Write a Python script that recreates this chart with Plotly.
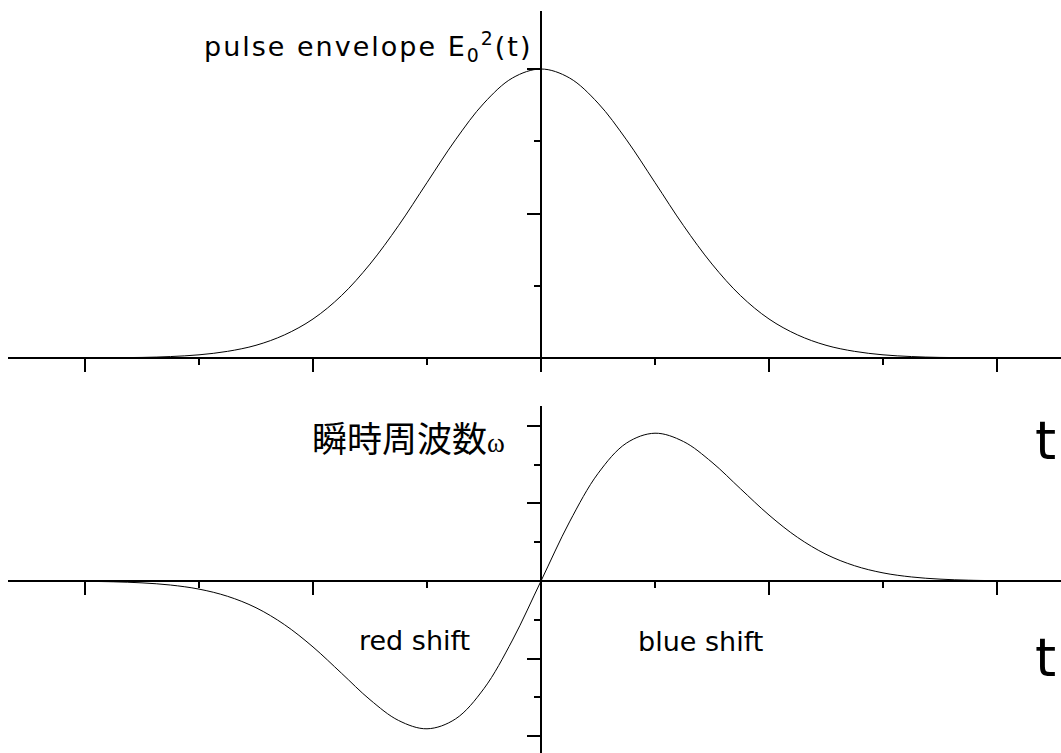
import plotly.graph_objects as go

# time axis, in units of the pulse width (one minor tick = 1)
t = [-4.0, -3.75, -3.5, -3.25, -3.0, -2.75, -2.5, -2.25, -2.0, -1.75, -1.5, -1.25, -1.0,
     -0.75, -0.5, -0.25, 0.0, 0.25, 0.5, 0.75, 1.0, 1.25, 1.5, 1.75, 2.0, 2.25, 2.5,
     2.75, 3.0, 3.25, 3.5, 3.75, 4.0]

# pulse envelope E0^2(t), normalised to 1 at the peak
envelope = [0.000, 0.001, 0.002, 0.005, 0.011, 0.023, 0.044, 0.080, 0.135, 0.216, 0.325,
            0.458, 0.607, 0.755, 0.882, 0.969, 1.000, 0.969, 0.882, 0.755, 0.607, 0.458,
            0.325, 0.216, 0.135, 0.080, 0.044, 0.023, 0.011, 0.005, 0.002, 0.001, 0.000]

# instantaneous frequency shift (one y tick = 1)
omega = [-0.008, -0.021, -0.048, -0.104, -0.209, -0.394, -0.689, -1.125, -1.700, -2.377,
         -3.059, -3.594, -3.809, -3.555, -2.771, -1.522, 0.000, 1.522, 2.771, 3.555, 3.809,
         3.594, 3.059, 2.377, 1.700, 1.125, 0.689, 0.394, 0.209, 0.104, 0.048, 0.021, 0.008]

W, H = 1061, 753
X_LEFT = 8          # left end of the time axes
X_ZERO = 541        # t = 0
PX_PER_T = 114
TOP_BASE, TOP_TOP = 358, 11
BOT_ZERO, BOT_TOP, BOT_BOTTOM = 581, 406, 753
PX_PER_W = 38.8

t_range = [-(X_ZERO - X_LEFT) / PX_PER_T, (W - X_ZERO) / PX_PER_T]
top_range = [0, (TOP_BASE - TOP_TOP) / (TOP_BASE - 69)]
bot_range = [-(BOT_BOTTOM - BOT_ZERO) / PX_PER_W, (BOT_ZERO - BOT_TOP) / PX_PER_W]

def py(px):
    return 1 - px / H

fig = go.Figure()
fig.add_trace(go.Scatter(x=t, y=envelope, mode="lines", line=dict(color="black", width=1, shape="spline"),
                         xaxis="x", yaxis="y", hoverinfo="skip"))
fig.add_trace(go.Scatter(x=t, y=omega, mode="lines", line=dict(color="black", width=1, shape="spline"),
                         xaxis="x2", yaxis="y2", hoverinfo="skip"))

xcommon = dict(range=t_range, domain=[X_LEFT / W, 1], showgrid=False, zeroline=False,
               showline=True, linecolor="black", linewidth=2, ticks="outside", tickcolor="black",
               tickwidth=2, ticklen=13, tick0=0, dtick=2, showticklabels=False, fixedrange=True,
               minor=dict(dtick=1, tick0=0, ticks="outside", ticklen=6, tickwidth=2, tickcolor="black"))
ycommon = dict(showgrid=False, zeroline=False, showline=True, linecolor="black", linewidth=2,
               ticks="outside", tickcolor="black", tickwidth=2, ticklen=13, showticklabels=False,
               anchor="free", position=X_ZERO / W, fixedrange=True)

fig.update_layout(
    width=W, height=H, margin=dict(l=0, r=0, t=0, b=0),
    paper_bgcolor="white", plot_bgcolor="rgba(0,0,0,0)", showlegend=False,
    xaxis=dict(**xcommon, anchor="free", position=py(TOP_BASE)),
    yaxis=dict(**ycommon, range=top_range, domain=[py(TOP_BASE), py(TOP_TOP)], tick0=0, dtick=0.5,
               minor=dict(dtick=0.25, tick0=0, ticks="outside", ticklen=6, tickwidth=2, tickcolor="black")),
    xaxis2=dict(**xcommon, anchor="free", position=py(BOT_ZERO)),
    yaxis2=dict(**ycommon, range=bot_range, domain=[py(BOT_BOTTOM), py(BOT_TOP)], tick0=0, dtick=2,
                minor=dict(dtick=1, tick0=0, ticks="outside", ticklen=6, tickwidth=2, tickcolor="black")),
)

font_lat = "DejaVu Sans, sans-serif"
ann = dict(showarrow=False, font=dict(family=font_lat, size=27, color="black"))
fig.add_annotation(text="<span style='letter-spacing:2px'>pulse envelope E<sub>0</sub><sup>2</sup>(t)</span>",
                   xref="paper", yref="paper",
                   x=534 / W, y=py(47), xanchor="right", yanchor="middle", **ann)
fig.add_annotation(text="瞬時周波数<span style='font-family:Liberation Serif,serif;font-size:27px'>ω</span>",
                   xref="paper", yref="paper", x=507 / W, y=py(436), xanchor="right", yanchor="middle",
                   showarrow=False, font=dict(family="Noto Sans CJK JP, sans-serif", size=35, color="black"))
fig.add_annotation(text="red shift", xref="paper", yref="paper", x=414 / W, y=py(640),
                   xanchor="center", yanchor="middle", **ann)
fig.add_annotation(text="blue shift", xref="paper", yref="paper", x=700 / W, y=py(641),
                   xanchor="center", yanchor="middle", **ann)
big = dict(showarrow=False, font=dict(family=font_lat, size=54, color="black"))
fig.add_annotation(text="t", xref="paper", yref="paper", x=1045 / W, y=py(440),
                   xanchor="center", yanchor="middle", **big)
fig.add_annotation(text="t", xref="paper", yref="paper", x=1045 / W, y=py(657),
                   xanchor="center", yanchor="middle", **big)

fig.write_html("out.html", config={"displayModeBar": False})
